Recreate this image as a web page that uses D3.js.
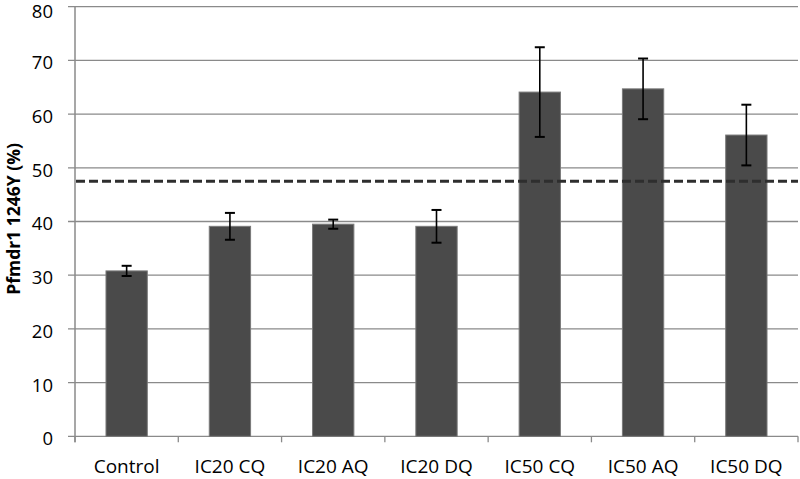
<!DOCTYPE html>
<html><head><meta charset="utf-8">
<script src="https://cdn.jsdelivr.net/npm/d3@7"></script>
<style>body{margin:0;background:#fff}svg{display:block}text{font-family:"Open Sans",sans-serif}</style>
</head><body>
<svg id="chart" width="800" height="479"></svg>
<script>
const categories = ["Control","IC20 CQ","IC20 AQ","IC20 DQ","IC50 CQ","IC50 AQ","IC50 DQ"];
const values = [30.8, 39.1, 39.5, 39.1, 64.1, 64.7, 56.1];
const errors = [0.95, 2.5, 0.85, 3.05, 8.35, 5.65, 5.65];
const threshold = 47.5;
const yTicks = [0,10,20,30,40,50,60,70,80];
const yTitle = "Pfmdr1 1246Y (%)";

const svg = d3.select("#chart");
const pLeft = 75, pRight = 798, pTop = 6.7, pBottom = 436.3;
const x = d3.scaleBand().domain(categories).range([pLeft, pRight]).paddingInner(0.6).paddingOuter(0.3);
const xb = d3.scaleBand().domain(categories).range([pLeft, pRight]);
const y = d3.scaleLinear().domain([0, 80]).range([pBottom, pTop]);

// gridlines
svg.append("g").selectAll("line").data(yTicks).join("line")
  .attr("x1", 68).attr("x2", pRight).attr("y1", d => y(d)).attr("y2", d => y(d))
  .attr("stroke", "#8a8a8a").attr("stroke-width", 1.3);

// y tick labels
svg.append("g").selectAll("text").data(yTicks).join("text")
  .attr("x", 53).attr("y", d => Math.max(y(d) + 2.5, 12)).attr("dy", "0.35em").attr("text-anchor", "end")
  .attr("font-size", 18.5).attr("fill", "#000").text(d => d);

// bars
svg.append("g").selectAll("rect").data(categories).join("rect")
  .attr("x", d => x(d)).attr("width", x.bandwidth())
  .attr("y", (d,i) => y(values[i])).attr("height", (d,i) => y(0) - y(values[i]))
  .attr("fill", "#4a4a4a").attr("stroke", "#7a7a7a").attr("stroke-width", 1);

// y axis line
svg.append("line").attr("x1", pLeft).attr("x2", pLeft).attr("y1", pTop).attr("y2", pBottom + 6)
  .attr("stroke", "#8a8a8a").attr("stroke-width", 1.5);

// x axis ticks
const xtickPos = categories.map(c => xb(c) + xb.bandwidth()).concat([pLeft]);
svg.append("g").selectAll("line").data(xtickPos).join("line")
  .attr("x1", d => d).attr("x2", d => d).attr("y1", pBottom).attr("y2", pBottom + 6)
  .attr("stroke", "#8a8a8a").attr("stroke-width", 1.3);

// x labels
svg.append("g").selectAll("text").data(categories).join("text")
  .attr("x", d => xb(d) + xb.bandwidth()/2).attr("y", 473)
  .attr("text-anchor", "middle").attr("font-size", 19).attr("fill", "#000").text(d => d);

// error bars
const eg = svg.append("g").attr("stroke", "#000").attr("stroke-width", 1.6);
categories.forEach((c, i) => {
  const cx = x(c) + x.bandwidth()/2;
  eg.append("line").attr("x1", cx).attr("x2", cx).attr("y1", y(values[i] + errors[i])).attr("y2", y(values[i] - errors[i]));
  [values[i] + errors[i], values[i] - errors[i]].forEach(v => {
    eg.append("line").attr("x1", cx - 5).attr("x2", cx + 5).attr("y1", y(v)).attr("y2", y(v)).attr("stroke-width", 2);
  });
});

// threshold dashed line
svg.append("line").attr("x1", pLeft + 1).attr("x2", pRight).attr("y1", y(threshold)).attr("y2", y(threshold))
  .attr("stroke", "#2e2e2e").attr("stroke-width", 3).attr("stroke-dasharray", "9,4");

// y title
svg.append("text").attr("transform", `translate(19.5,219) rotate(-90)`)
  .attr("text-anchor", "middle").attr("font-weight", "bold").attr("font-size", 17.5).attr("fill", "#000").text(yTitle);
</script>
</body></html>
